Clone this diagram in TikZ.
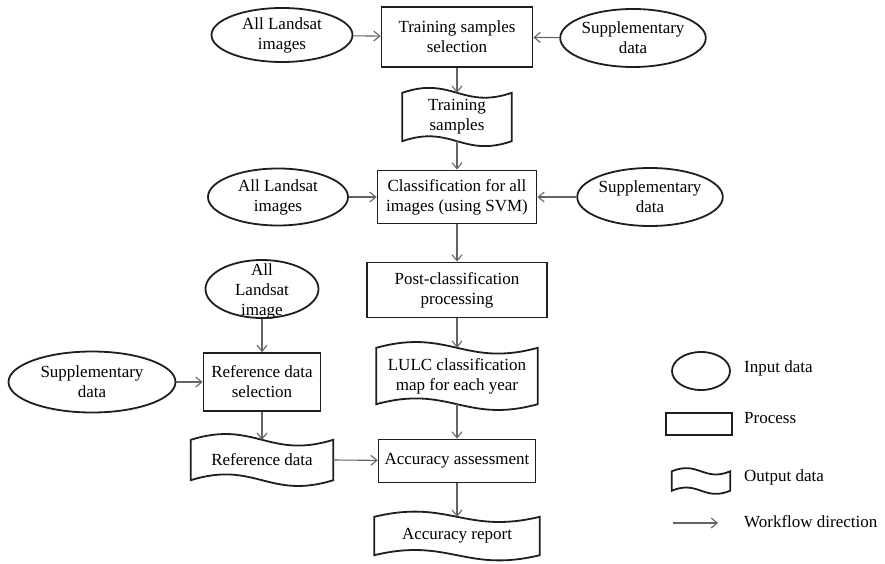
\documentclass[tikz,border=0pt]{standalone}
\usepackage{fontspec}
\setmainfont{Liberation Serif}
\usetikzlibrary{calc,arrows.meta,shapes.geometric}
\definecolor{border}{RGB}{30,30,30}
\definecolor{arrowc}{RGB}{100,100,100}
\tikzset{
  txt/.style={font=\fontsize{17}{20}\selectfont, align=center, inner sep=0pt},
  inbox/.style={txt, ellipse, draw=border, line width=1.8pt},
  procbox/.style={txt, rectangle, draw=border, line width=1.8pt},
  outbox/.style={txt, rectangle, draw=none},
  flow/.style={draw=arrowc, line width=1.1pt, -{Straight Barb[length=6pt,width=10pt]}},
  legtxt/.style={font=\fontsize{17}{20}\selectfont, anchor=west, inner sep=0pt},
}
\newcommand\wavepath[2]{%
  \draw[draw=border, line width=1.8pt]
    (#1.north west) .. controls ($(#1.north west)!0.45!(#1.north east)+(0,-#2)$)
      and ($(#1.north west)!0.55!(#1.north east)+(0,#2)$) .. (#1.north east)
    -- (#1.south east) .. controls ($(#1.south west)!0.55!(#1.south east)+(0,#2)$)
      and ($(#1.south west)!0.45!(#1.south east)+(0,-#2)$) .. (#1.south west) -- cycle;}
\begin{document}
\begin{tikzpicture}[x=1pt,y=-1pt]
\useasboundingbox (0,0) rectangle (885,564);
% row 1
\node[inbox, minimum width=141pt, minimum height=54pt] (e1) at (282,35) {All Landsat\\images};
\node[procbox, minimum width=151pt, minimum height=60pt] (p1) at (457,37) {Training samples\\selection};
\node[inbox, minimum width=140pt, minimum height=58pt] (e2) at (633,38) {Supplementary\\data};
\node[outbox, minimum width=109pt, minimum height=48pt] (o1) at (457,117) {Training\\samples};
\wavepath{o1}{17}
% row 2
\node[inbox, minimum width=140pt, minimum height=57pt] (e3) at (278,197) {All Landsat\\images};
\node[procbox, minimum width=159pt, minimum height=53pt] (p2) at (457,197) {Classification for all\\images (using SVM)};
\node[inbox, minimum width=140pt, minimum height=58pt] (e4) at (650,197) {Supplementary\\data};
% row 3
\node[procbox, minimum width=180pt, minimum height=55pt] (p3) at (457,290) {Post-classification\\processing};
\node[ellipse, draw=border, line width=1.8pt, inner sep=0pt, minimum width=113pt, minimum height=58pt] (e5) at (262,289) {};
\node[txt] (e5t) at (262,291) {All\\Landsat\\image};
\node[outbox, minimum width=161pt, minimum height=56pt] (o2) at (457,376) {LULC classification\\map for each year};
\wavepath{o2}{20}
\node[inbox, minimum width=167pt, minimum height=61pt] (e6) at (92,382) {Supplementary\\data};
\node[procbox, minimum width=117pt, minimum height=58pt] (p4) at (262,382) {Reference data\\selection};
\node[outbox, minimum width=142pt, minimum height=40pt] (o3) at (262,460) {Reference data};
\wavepath{o3}{20}
\node[procbox, minimum width=157pt, minimum height=43pt] (p5) at (457,461) {Accuracy assessment};
\node[outbox, minimum width=165pt, minimum height=38pt] (o4) at (457,536) {Accuracy report};
\wavepath{o4}{18}
% legend
\node[ellipse, draw=border, line width=1.8pt, minimum width=58pt, minimum height=38pt, inner sep=0pt] (le) at (701,371) {};
\node[rectangle, draw=border, line width=1.8pt, minimum width=66pt, minimum height=22pt, inner sep=0pt] (lp) at (699,424) {};
\node[outbox, minimum width=58pt, minimum height=19pt] (lo) at (701,481) {};
\wavepath{lo}{11}
\coordinate (la1) at (673,523);
\coordinate (la2) at (718,523);
\draw[flow] (la1) -- (la2);
\node[legtxt] (t1) at (744,368) {Input data};
\node[legtxt] (t2) at (744,418) {Process};
\node[legtxt] (t3) at (744,477) {Output data};
\node[legtxt] (t4) at (744,522) {Workflow direction};
% connectors
\draw[flow] (e1) -- (p1);
\draw[flow] (e2) -- (p1);
\draw[flow] (p1) -- (o1.north);
\draw[flow] (o1.south) -- (p2);
\draw[flow] (e3) -- (p2);
\draw[flow] (e4) -- (p2);
\draw[flow] (p2) -- (p3);
\draw[flow] (p3) -- (o2.north);
\draw[flow] (o2.south) -- (p5);
\draw[flow] (e5) -- (p4);
\draw[flow] (e6) -- (p4);
\draw[flow] (p4) -- (o3.north);
\draw[flow] (o3.east) -- (p5);
\draw[flow] (p5) -- (o4.north);
\end{tikzpicture}
\end{document}
